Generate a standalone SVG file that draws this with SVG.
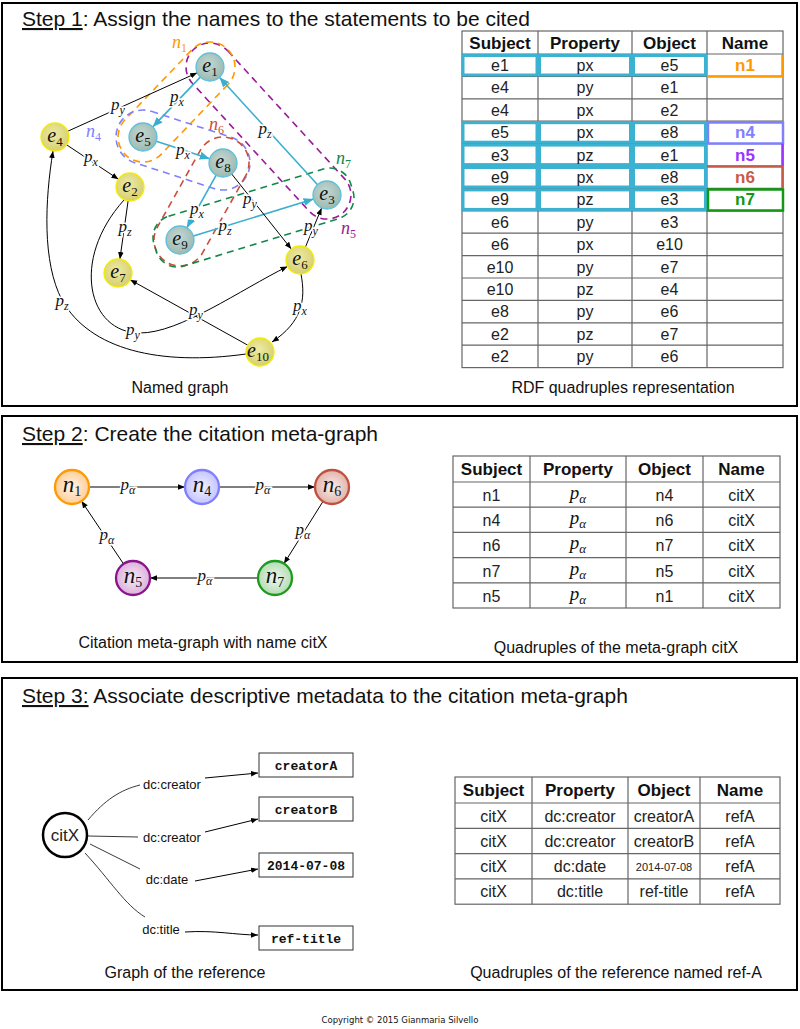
<svg xmlns="http://www.w3.org/2000/svg" width="800" height="1029" viewBox="0 0 800 1029">
<defs>
<radialGradient id="gTeal" cx="0.45" cy="0.4" r="0.6"><stop offset="0" stop-color="#c4d8d2"/><stop offset="1" stop-color="#9cbab2"/></radialGradient>
<radialGradient id="gYel" cx="0.45" cy="0.4" r="0.6"><stop offset="0" stop-color="#eeeaa4"/><stop offset="1" stop-color="#d6d070"/></radialGradient>
<radialGradient id="gN1"><stop offset="0" stop-color="#fff3e6"/><stop offset="1" stop-color="#ffcf9a"/></radialGradient>
<radialGradient id="gN4"><stop offset="0" stop-color="#f2f2ff"/><stop offset="1" stop-color="#c4c4ff"/></radialGradient>
<radialGradient id="gN6"><stop offset="0" stop-color="#f8eeec"/><stop offset="1" stop-color="#e2b4aa"/></radialGradient>
<radialGradient id="gN7"><stop offset="0" stop-color="#eef8ee"/><stop offset="1" stop-color="#b4dcb4"/></radialGradient>
<radialGradient id="gN5"><stop offset="0" stop-color="#f6ecf6"/><stop offset="1" stop-color="#dcb0dc"/></radialGradient>
<marker id="aB" viewBox="0 0 10 10" refX="10" refY="5" markerWidth="7" markerHeight="7" orient="auto" markerUnits="userSpaceOnUse"><path d="M0,1 L10,5 L0,9 z" fill="#000"/></marker>
<marker id="aC" viewBox="0 0 10 10" refX="10" refY="5" markerWidth="10" markerHeight="10" orient="auto" markerUnits="userSpaceOnUse"><path d="M0,1 L10,5 L0,9 z" fill="#3aaecf"/></marker>
<style>
.panel{fill:none;stroke:#000;stroke-width:2}
.title{font-family:"Liberation Sans",Arial,sans-serif;font-size:21px;fill:#111}
.cap{font-family:"Liberation Sans",Arial,sans-serif;font-size:16px;fill:#111;text-anchor:middle}
.m{font-family:"Liberation Serif","DejaVu Serif",serif;font-size:18px;font-style:italic}
.lbl{font-family:"Liberation Serif","DejaVu Serif",serif;font-size:17px;font-style:italic;fill:#111;text-anchor:middle;paint-order:stroke;stroke:#fff;stroke-width:3px}
.tp{font-family:"Liberation Serif","DejaVu Serif",serif;font-size:19px;font-style:italic;fill:#111;text-anchor:middle}
.nl{font-family:"Liberation Serif","DejaVu Serif",serif;font-size:20px;font-style:italic;fill:#111;text-anchor:middle}
.nl2{font-family:"Liberation Serif","DejaVu Serif",serif;font-size:23px;font-style:italic;fill:#111;text-anchor:middle}
.teal{fill:url(#gTeal);stroke:#5cc0dc;stroke-width:1.3}
.yel{fill:url(#gYel);stroke:#f5ec00;stroke-width:1.3}
.eb{fill:none;stroke:#000;stroke-width:1;marker-end:url(#aB)}
.ec{fill:none;stroke:#3aaecf;stroke-width:1.6;marker-end:url(#aC)}
.ln{fill:none;stroke:#222;stroke-width:0.9}
.hull{fill:none;stroke-width:1.6;stroke-dasharray:7 5}
.grid{fill:none;stroke:#666;stroke-width:1.2}
.th{font-family:"Liberation Sans",Arial,sans-serif;font-size:17px;font-weight:bold;fill:#111;text-anchor:middle}
.td{font-family:"Liberation Sans",Arial,sans-serif;font-size:16px;fill:#222;text-anchor:middle}
.tds{font-family:"Liberation Sans",Arial,sans-serif;font-size:11px;fill:#222;text-anchor:middle}
.cy{fill:none;stroke:#3cb2d2;stroke-width:3}
.el{font-family:"Liberation Sans",Arial,sans-serif;font-size:13px;fill:#111;text-anchor:middle;paint-order:stroke;stroke:#fff;stroke-width:3px}
.box{fill:#fff;stroke:#333;stroke-width:1}
.bt{font-family:"Liberation Mono","Courier New",monospace;font-size:13px;font-weight:bold;fill:#111;text-anchor:middle}
</style>
</defs>
<rect width="800" height="1029" fill="#fff"/>

<!-- ============ STEP 1 ============ -->
<rect class="panel" x="2" y="3" width="795" height="403"/>
<text class="title" x="22" y="26"><tspan text-decoration="underline">Step 1</tspan>: Assign the names to the statements to be cited</text>

<g id="hulls">
<rect class="hull" stroke="#9a1a9a" x="-24" y="-24" width="221.4" height="48" rx="24" transform="translate(210,67) rotate(47.6)"/>
<rect class="hull" stroke="#ff9900" x="-25" y="-25" width="146.9" height="50" rx="25" transform="translate(210,67) rotate(133.7)"/>
<rect class="hull" stroke="#8080ff" x="-27" y="-27" width="138.1" height="54" rx="27" transform="translate(143,137) rotate(18)"/>
<rect class="hull" stroke="#cc4e3a" x="-26" y="-26" width="140.2" height="52" rx="26" transform="translate(223,163) rotate(119.2)"/>
<rect class="hull" stroke="#11884a" x="-26" y="-26" width="205.7" height="52" rx="22" transform="translate(180,240) rotate(-17)"/>
<text class="m" x="172" y="48" fill="#ff9900">n<tspan style="font-size:12px;font-style:normal" dy="4">1</tspan></text>
<text class="m" x="86" y="137" fill="#8080ff">n<tspan style="font-size:12px;font-style:normal" dy="4">4</tspan></text>
<text class="m" x="209" y="130" fill="#cc4e3a">n<tspan style="font-size:12px;font-style:normal" dy="4">6</tspan></text>
<text class="m" x="336" y="164" fill="#11884a">n<tspan style="font-size:12px;font-style:normal" dy="4">7</tspan></text>
<text class="m" x="341" y="234" fill="#9a1a9a">n<tspan style="font-size:12px;font-style:normal" dy="4">5</tspan></text>
</g>

<g id="connectors1">
<path class="eb" d="M67.8,131.2 L197.2,72.8"/>
<path class="ec" d="M200.3,77.1 L152.7,126.9"/>
<path class="ec" d="M156.3,141.3 L209.7,158.7"/>
<path class="eb" d="M66.6,144.8 L118.4,179.2"/>
<path class="ec" d="M317.6,184.7 L219.4,77.3"/>
<path class="ec" d="M216.2,175.2 L186.8,227.8"/>
<path class="ec" d="M193.4,235.9 L313.6,199.1"/>
<path class="eb" d="M231.7,174 L291.3,249"/>
<path class="eb" d="M305.4,247.1 L321.6,208"/>
<path class="eb" d="M128.1,200.9 L119.9,259.1"/>
<path class="eb" d="M247.8,345.2 L130.2,279.8"/>
<path class="eb" d="M301,274 C306,300 302,322 272,342"/>
<path class="eb" d="M124,200 C70,260 88,333 140,333 C180,333 240,290 287.5,266.5"/>
<path class="eb" d="M246,354 C160,366 90,350 62,300 C42,262 45,200 53,151"/>
<text class="lbl" x="118" y="110">p<tspan font-size="12" dy="4">y</tspan></text>
<text class="lbl" x="177" y="102">p<tspan font-size="12" dy="4">x</tspan></text>
<text class="lbl" x="183" y="155">p<tspan font-size="12" dy="4">x</tspan></text>
<text class="lbl" x="91" y="162">p<tspan font-size="12" dy="4">x</tspan></text>
<text class="lbl" x="265" y="134">p<tspan font-size="12" dy="4">z</tspan></text>
<text class="lbl" x="250" y="204">p<tspan font-size="12" dy="4">y</tspan></text>
<text class="lbl" x="197" y="214">p<tspan font-size="12" dy="4">x</tspan></text>
<text class="lbl" x="225" y="231">p<tspan font-size="12" dy="4">z</tspan></text>
<text class="lbl" x="311" y="231">p<tspan font-size="12" dy="4">y</tspan></text>
<text class="lbl" x="125" y="232">p<tspan font-size="12" dy="4">z</tspan></text>
<text class="lbl" x="300" y="311">p<tspan font-size="12" dy="4">x</tspan></text>
<text class="lbl" x="196" y="315">p<tspan font-size="12" dy="4">y</tspan></text>
<text class="lbl" x="133" y="335">p<tspan font-size="12" dy="4">y</tspan></text>
<text class="lbl" x="62" y="306">p<tspan font-size="12" dy="4">z</tspan></text>
</g>

<g id="e1"><circle class="teal" cx="210" cy="67" r="14"/><text class="nl" x="210" y="72">e<tspan style="font-size:13px;font-style:normal" dy="4">1</tspan></text></g>
<g id="e5"><circle class="teal" cx="143" cy="137" r="14"/><text class="nl" x="143" y="142">e<tspan style="font-size:13px;font-style:normal" dy="4">5</tspan></text></g>
<g id="e8"><circle class="teal" cx="223" cy="163" r="14"/><text class="nl" x="223" y="168">e<tspan style="font-size:13px;font-style:normal" dy="4">8</tspan></text></g>
<g id="e3"><circle class="teal" cx="327" cy="195" r="14"/><text class="nl" x="327" y="200">e<tspan style="font-size:13px;font-style:normal" dy="4">3</tspan></text></g>
<g id="e9"><circle class="teal" cx="180" cy="240" r="14"/><text class="nl" x="180" y="245">e<tspan style="font-size:13px;font-style:normal" dy="4">9</tspan></text></g>
<g id="e4"><circle class="yel" cx="55" cy="137" r="14"/><text class="nl" x="55" y="142">e<tspan style="font-size:13px;font-style:normal" dy="4">4</tspan></text></g>
<g id="e2"><circle class="yel" cx="130" cy="187" r="14"/><text class="nl" x="130" y="192">e<tspan style="font-size:13px;font-style:normal" dy="4">2</tspan></text></g>
<g id="e7"><circle class="yel" cx="118" cy="273" r="14"/><text class="nl" x="118" y="278">e<tspan style="font-size:13px;font-style:normal" dy="4">7</tspan></text></g>
<g id="e6"><circle class="yel" cx="300" cy="260" r="14"/><text class="nl" x="300" y="265">e<tspan style="font-size:13px;font-style:normal" dy="4">6</tspan></text></g>
<g id="e10"><circle class="yel" cx="260" cy="352" r="14"/><text class="nl" x="258" y="357">e<tspan style="font-size:13px;font-style:normal" dy="4">10</tspan></text></g>

<text class="cap" x="180" y="393">Named graph</text>

<g id="table1">
<rect class="grid" x="462" y="31" width="321" height="336.6"/>
<path class="grid" d="M538,31V367.6 M632,31V367.6 M707,31V367.6 M462,54H783 M462,76.4H783 M462,98.8H783 M462,121.2H783 M462,143.6H783 M462,166H783 M462,188.4H783 M462,210.8H783 M462,233.2H783 M462,255.6H783 M462,278H783 M462,300.4H783 M462,322.8H783 M462,345.2H783"/>
<text class="th" x="500" y="49">Subject</text><text class="th" x="585" y="49">Property</text><text class="th" x="669.5" y="49">Object</text><text class="th" x="745" y="49">Name</text>
<g>
<rect class="cy" x="463" y="55.5" width="74" height="19.5"/><rect class="cy" x="539.5" y="55.5" width="91" height="19.5"/><rect class="cy" x="633.5" y="55.5" width="72" height="19.5"/>
<rect class="cy" x="463" y="122.7" width="74" height="19.5"/><rect class="cy" x="539.5" y="122.7" width="91" height="19.5"/><rect class="cy" x="633.5" y="122.7" width="72" height="19.5"/>
<rect class="cy" x="463" y="145.1" width="74" height="19.5"/><rect class="cy" x="539.5" y="145.1" width="91" height="19.5"/><rect class="cy" x="633.5" y="145.1" width="72" height="19.5"/>
<rect class="cy" x="463" y="167.5" width="74" height="19.5"/><rect class="cy" x="539.5" y="167.5" width="91" height="19.5"/><rect class="cy" x="633.5" y="167.5" width="72" height="19.5"/>
<rect class="cy" x="463" y="189.9" width="74" height="19.5"/><rect class="cy" x="539.5" y="189.9" width="91" height="19.5"/><rect class="cy" x="633.5" y="189.9" width="72" height="19.5"/>
</g>
<path d="M707,76.4 H782.5 V55" fill="none" stroke="#ff9900" stroke-width="2.5"/>
<rect x="708" y="122.5" width="75" height="21" fill="none" stroke="#8080ff" stroke-width="2.5"/>
<path d="M782.5,143.6 V166" fill="none" stroke="#9933ff" stroke-width="2.5"/>
<path d="M707,166.5 H782.5 V188.4" fill="none" stroke="#c85a48" stroke-width="2.5"/>
<rect x="708" y="189.5" width="75" height="21" fill="none" stroke="#119911" stroke-width="2.5"/>
<text class="td" x="500" y="71">e1</text><text class="td" x="585" y="71">px</text><text class="td" x="669.5" y="71">e5</text><text class="th" x="745" y="71" style="fill:#ff9900">n1</text>
<text class="td" x="500" y="93.4">e4</text><text class="td" x="585" y="93.4">py</text><text class="td" x="669.5" y="93.4">e1</text>
<text class="td" x="500" y="115.8">e4</text><text class="td" x="585" y="115.8">px</text><text class="td" x="669.5" y="115.8">e2</text>
<text class="td" x="500" y="138.2">e5</text><text class="td" x="585" y="138.2">px</text><text class="td" x="669.5" y="138.2">e8</text><text class="th" x="745" y="138.2" style="fill:#8080ff">n4</text>
<text class="td" x="500" y="160.6">e3</text><text class="td" x="585" y="160.6">pz</text><text class="td" x="669.5" y="160.6">e1</text><text class="th" x="745" y="160.6" style="fill:#9933ff">n5</text>
<text class="td" x="500" y="183">e9</text><text class="td" x="585" y="183">px</text><text class="td" x="669.5" y="183">e8</text><text class="th" x="745" y="183" style="fill:#c85a48">n6</text>
<text class="td" x="500" y="205.4">e9</text><text class="td" x="585" y="205.4">pz</text><text class="td" x="669.5" y="205.4">e3</text><text class="th" x="745" y="205.4" style="fill:#119911">n7</text>
<text class="td" x="500" y="227.8">e6</text><text class="td" x="585" y="227.8">py</text><text class="td" x="669.5" y="227.8">e3</text>
<text class="td" x="500" y="250.2">e6</text><text class="td" x="585" y="250.2">px</text><text class="td" x="669.5" y="250.2">e10</text>
<text class="td" x="500" y="272.6">e10</text><text class="td" x="585" y="272.6">py</text><text class="td" x="669.5" y="272.6">e7</text>
<text class="td" x="500" y="295">e10</text><text class="td" x="585" y="295">pz</text><text class="td" x="669.5" y="295">e4</text>
<text class="td" x="500" y="317.4">e8</text><text class="td" x="585" y="317.4">py</text><text class="td" x="669.5" y="317.4">e6</text>
<text class="td" x="500" y="339.8">e2</text><text class="td" x="585" y="339.8">pz</text><text class="td" x="669.5" y="339.8">e7</text>
<text class="td" x="500" y="362.2">e2</text><text class="td" x="585" y="362.2">py</text><text class="td" x="669.5" y="362.2">e6</text>
</g>
<text class="cap" x="623" y="393">RDF quadruples representation</text>

<!-- ============ STEP 2 ============ -->
<rect class="panel" x="2" y="416" width="795" height="246"/>
<text class="title" x="22" y="441"><tspan text-decoration="underline">Step 2</tspan>: Create the citation meta-graph</text>
<g id="connectors2">
<path class="eb" d="M89,487 L185,487"/>
<path class="eb" d="M219,487 L315,487"/>
<path class="eb" d="M323,501.4 L284,563.6"/>
<path class="eb" d="M258,578 L150,578"/>
<path class="eb" d="M123.5,563.9 L81.5,501.1"/>
<text class="lbl" x="128" y="490">p<tspan font-size="12" dy="4">α</tspan></text>
<text class="lbl" x="263" y="490">p<tspan font-size="12" dy="4">α</tspan></text>
<text class="lbl" x="303" y="535">p<tspan font-size="12" dy="4">α</tspan></text>
<text class="lbl" x="205" y="581">p<tspan font-size="12" dy="4">α</tspan></text>
<text class="lbl" x="107" y="540">p<tspan font-size="12" dy="4">α</tspan></text>
</g>
<g id="n1"><circle cx="72" cy="487" r="17" fill="url(#gN1)" stroke="#ff9900" stroke-width="2.3"/><text class="nl2" x="72" y="492">n<tspan style="font-size:14px;font-style:normal" dy="4">1</tspan></text></g>
<g id="n4"><circle cx="202" cy="487" r="17" fill="url(#gN4)" stroke="#8080ff" stroke-width="2.3"/><text class="nl2" x="202" y="492">n<tspan style="font-size:14px;font-style:normal" dy="4">4</tspan></text></g>
<g id="n6"><circle cx="332" cy="487" r="17" fill="url(#gN6)" stroke="#c05040" stroke-width="2.3"/><text class="nl2" x="332" y="492">n<tspan style="font-size:14px;font-style:normal" dy="4">6</tspan></text></g>
<g id="n7"><circle cx="275" cy="578" r="17" fill="url(#gN7)" stroke="#1e9a1e" stroke-width="2.3"/><text class="nl2" x="275" y="583">n<tspan style="font-size:14px;font-style:normal" dy="4">7</tspan></text></g>
<g id="n5"><circle cx="133" cy="578" r="17" fill="url(#gN5)" stroke="#8a148a" stroke-width="2.3"/><text class="nl2" x="133" y="583">n<tspan style="font-size:14px;font-style:normal" dy="4">5</tspan></text></g>
<text class="cap" x="203" y="648">Citation meta-graph with name citX</text>

<g id="table2">
<rect class="grid" x="453" y="456" width="327" height="152"/>
<path class="grid" d="M530,456V608 M626,456V608 M703,456V608 M453,482H780 M453,507.2H780 M453,532.4H780 M453,557.6H780 M453,582.8H780"/>
<text class="th" x="491.5" y="475">Subject</text><text class="th" x="578" y="475">Property</text><text class="th" x="664.5" y="475">Object</text><text class="th" x="741.5" y="475">Name</text>
<text class="td" x="491.5" y="501">n1</text><text class="tp" x="578" y="499">p<tspan style="font-size:13px" dy="4">α</tspan></text><text class="td" x="664.5" y="501">n4</text><text class="td" x="741.5" y="501">citX</text>
<text class="td" x="491.5" y="526.2">n4</text><text class="tp" x="578" y="524.2">p<tspan style="font-size:13px" dy="4">α</tspan></text><text class="td" x="664.5" y="526.2">n6</text><text class="td" x="741.5" y="526.2">citX</text>
<text class="td" x="491.5" y="551.4">n6</text><text class="tp" x="578" y="549.4">p<tspan style="font-size:13px" dy="4">α</tspan></text><text class="td" x="664.5" y="551.4">n7</text><text class="td" x="741.5" y="551.4">citX</text>
<text class="td" x="491.5" y="576.6">n7</text><text class="tp" x="578" y="574.6">p<tspan style="font-size:13px" dy="4">α</tspan></text><text class="td" x="664.5" y="576.6">n5</text><text class="td" x="741.5" y="576.6">citX</text>
<text class="td" x="491.5" y="601.8">n5</text><text class="tp" x="578" y="599.8">p<tspan style="font-size:13px" dy="4">α</tspan></text><text class="td" x="664.5" y="601.8">n1</text><text class="td" x="741.5" y="601.8">citX</text>
</g>
<text class="cap" x="616" y="653">Quadruples of the meta-graph citX</text>

<!-- ============ STEP 3 ============ -->
<rect class="panel" x="2" y="678" width="795" height="312"/>
<text class="title" x="22" y="703"><tspan text-decoration="underline">Step 3:</tspan> Associate descriptive metadata to the citation meta-graph</text>
<g id="connectors3">
<path class="ln" d="M88,820 C105,800 120,790 140,785"/>
<path class="eb" d="M205,778 L258,773"/>
<path class="ln" d="M88,836 L138,837"/>
<path class="eb" d="M205,832 L258,819"/>
<path class="ln" d="M90,844 L140,869"/>
<path class="eb" d="M195,881 L258,869"/>
<path class="ln" d="M85,853 C110,880 125,905 145,917"/>
<path class="eb" d="M185,932 C215,930 235,935 258,935"/>
<text class="el" x="172" y="789">dc:creator</text>
<text class="el" x="172" y="842">dc:creator</text>
<text class="el" x="167" y="884">dc:date</text>
<text class="el" x="161" y="934">dc:title</text>
</g>
<g id="citX"><circle cx="65" cy="835" r="22" fill="#fff" stroke="#000" stroke-width="2.5"/><text x="65" y="841" font-family="'Liberation Sans',Arial,sans-serif" font-size="17" text-anchor="middle" fill="#222">citX</text></g>
<g id="creatorA"><rect class="box" x="259" y="753" width="94" height="24"/><text class="bt" x="306" y="769.5">creatorA</text></g>
<g id="creatorB"><rect class="box" x="259" y="797" width="94" height="24"/><text class="bt" x="306" y="813.5">creatorB</text></g>
<g id="date"><rect class="box" x="259" y="853" width="94" height="24"/><text class="bt" x="306" y="869.5">2014-07-08</text></g>
<g id="reftitle"><rect class="box" x="259" y="926" width="94" height="24"/><text class="bt" x="306" y="942.5">ref-title</text></g>
<text class="cap" x="185" y="978">Graph of the reference</text>

<g id="table3">
<rect class="grid" x="455" y="777" width="325" height="127.2"/>
<path class="grid" d="M532,777V904.2 M628,777V904.2 M700,777V904.2 M455,803H780 M455,828.3H780 M455,853.6H780 M455,878.9H780"/>
<text class="th" x="493.5" y="796">Subject</text><text class="th" x="580" y="796">Property</text><text class="th" x="664" y="796">Object</text><text class="th" x="740" y="796">Name</text>
<text class="td" x="493.5" y="821.5">citX</text><text class="td" x="580" y="821.5">dc:creator</text><text class="td" x="664" y="821.5">creatorA</text><text class="td" x="740" y="821.5">refA</text>
<text class="td" x="493.5" y="846.8">citX</text><text class="td" x="580" y="846.8">dc:creator</text><text class="td" x="664" y="846.8">creatorB</text><text class="td" x="740" y="846.8">refA</text>
<text class="td" x="493.5" y="872.1">citX</text><text class="td" x="580" y="872.1">dc:date</text><text class="tds" x="664" y="870.6">2014-07-08</text><text class="td" x="740" y="872.1">refA</text>
<text class="td" x="493.5" y="897.4">citX</text><text class="td" x="580" y="897.4">dc:title</text><text class="td" x="664" y="897.4">ref-title</text><text class="td" x="740" y="897.4">refA</text>
</g>
<text class="cap" x="616" y="978">Quadruples of the reference named ref-A</text>

<text x="400" y="1023" font-family="'DejaVu Sans',sans-serif" font-size="8.5" text-anchor="middle" fill="#111">Copyright © 2015 Gianmaria Silvello</text>
</svg>
